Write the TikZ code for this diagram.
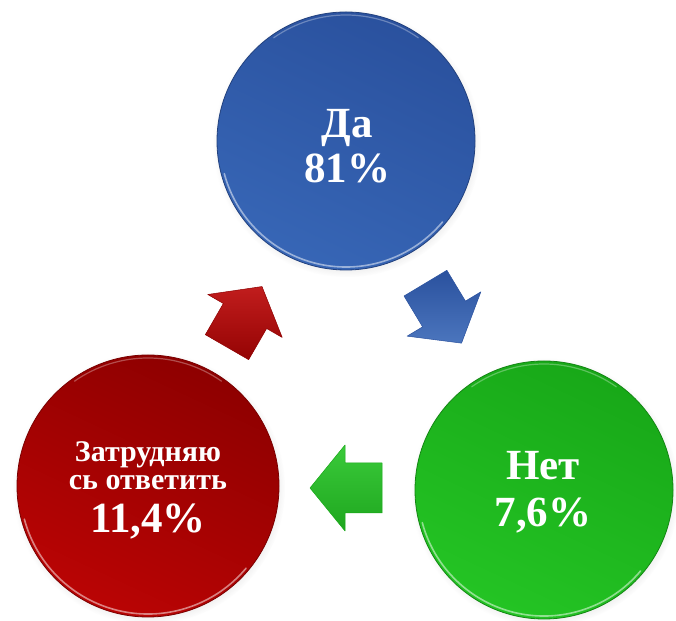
\documentclass[tikz,border=0pt]{standalone}
\usepackage{fontspec}
\setmainfont{Liberation Serif}
\usetikzlibrary{shadows,fadings}
\definecolor{bluedark}{HTML}{2A519E}
\definecolor{bluelight}{HTML}{3766B6}
\definecolor{reddark}{HTML}{8E0000}
\definecolor{redlight}{HTML}{BA0404}
\definecolor{greendark}{HTML}{18A818}
\definecolor{greenlight}{HTML}{24C424}
\begin{document}
\begin{tikzpicture}[x=1pt,y=1pt,
  ball/.style={circle, minimum size=#1, inner sep=0pt, outer sep=0pt, line width=0.8pt,
    circular drop shadow={shadow scale=1.04, shadow xshift=1pt, shadow yshift=-2pt, opacity=0.28}},
  big/.style={text=white, anchor=base, font=\fontsize{43}{43}\selectfont\bfseries},
  small/.style={text=white, anchor=base, font=\fontsize{30}{30}\selectfont\bfseries},
  rimlow/.style={white, opacity=0.5, line width=1.6pt, line cap=round},
  rimtop/.style={white, opacity=0.3, line width=1.2pt, line cap=round},
  blockarrow/.style={line width=0.5pt, line join=round}
]
\useasboundingbox (0,0) rectangle (676,620);

% circles
\node[ball=258pt, draw=bluedark!80!black, top color=bluedark, bottom color=bluelight, shading angle=-25] (da) at (346,479) {};
\node[ball=262pt, draw=reddark!85!black, top color=reddark, bottom color=redlight, shading angle=-25] (zat) at (148,134) {};
\node[ball=258pt, draw=greendark!80!black, top color=greendark, bottom color=greenlight, shading angle=-25] (net) at (544,130) {};

% rim highlights
\draw[rimlow] (da.center) ++(195:126) arc[start angle=195, end angle=320, radius=126];
\draw[rimtop] (da.center) ++(55:126) arc[start angle=55, end angle=125, radius=126];
\draw[rimlow] (zat.center) ++(195:128) arc[start angle=195, end angle=320, radius=128];
\draw[rimtop] (zat.center) ++(55:128) arc[start angle=55, end angle=125, radius=128];
\draw[rimlow] (net.center) ++(195:126) arc[start angle=195, end angle=320, radius=126];
\draw[rimtop] (net.center) ++(55:126) arc[start angle=55, end angle=125, radius=126];

% block arrows
\begin{scope}[shift={(245,304)}, rotate=60]
  \path[blockarrow, draw=reddark, top color=redlight!90!white, bottom color=redlight!80!black]
    (-36,-25) -- (0,-25) -- (0,-43) -- (34,0) -- (0,43) -- (0,25) -- (-36,25) -- cycle;
\end{scope}
\begin{scope}[shift={(444,306)}, rotate=-59]
  \path[blockarrow, draw=bluedark, top color=bluedark, bottom color=bluelight!90!white]
    (-36,-25) -- (0,-25) -- (0,-43) -- (34,0) -- (0,43) -- (0,25) -- (-36,25) -- cycle;
\end{scope}
\begin{scope}[shift={(345,132)}, rotate=180]
  \path[blockarrow, draw=greendark, top color=greenlight!90!white, bottom color=greenlight!85!black]
    (-37,-25) -- (0,-25) -- (0,-43) -- (35,0) -- (0,43) -- (0,25) -- (-37,25) -- cycle;
\end{scope}

% labels
\node[big] (t1) at (347,482) {Да};
\node[big] (t2) at (347,437) {81\%};
\node[big] (t3) at (543,140) {Нет};
\node[big] (t4) at (543,93) {7,6\%};
\node[small] (t5) at (148,158) {Затрудняю};
\node[small] (t6) at (148,130) {сь ответить};
\node[big] (t7) at (148,87) {11,4\%};
\end{tikzpicture}
\end{document}
